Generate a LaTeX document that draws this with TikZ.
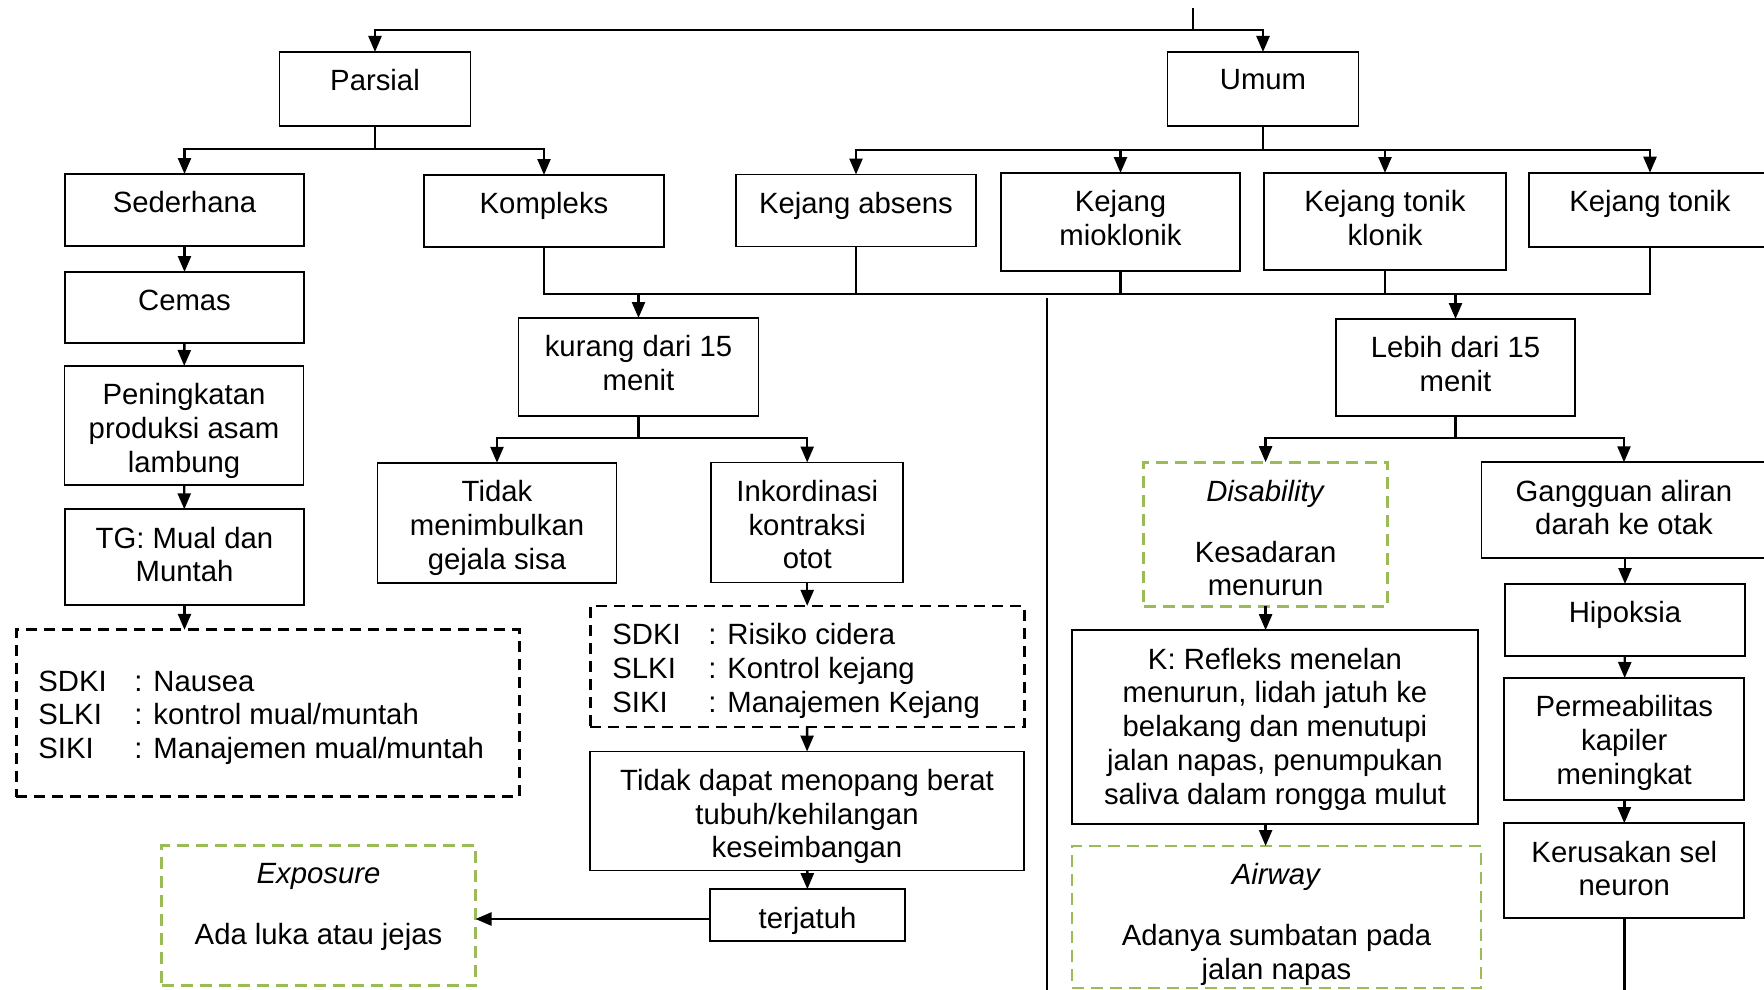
\documentclass[tikz,border=0pt]{standalone}
\usepackage{fontspec}
\setmainfont{Liberation Sans}
\usepackage{tikz}
\usetikzlibrary{arrows.meta}
\definecolor{exgreen}{RGB}{155,187,89}
\def\fsz{\fontsize{29.3}{33.75}\selectfont}

\begin{document}
\begin{tikzpicture}[x=1pt, y=-1pt,
  sz/.style 2 args={minimum width=#1, minimum height=#2},
  box/.style={draw, line width=1.8pt, inner sep=0pt, outer sep=0pt},
  gbox/.style={box, draw=exgreen, line width=2.6pt, dash pattern=on 12pt off 7pt},
  dbox/.style={box, line width=2.8pt, dash pattern=on 11pt off 7pt},
  txt/.style={anchor=north, align=center, inner xsep=0pt, inner ysep=17.5pt, font=\fsz},
  lst/.style={anchor=west, align=left, inner xsep=22pt, inner ysep=0pt, yshift=-4.5pt, font=\fsz},
  line/.style={line width=2.4pt},
  arr/.style={line, -{Triangle[length=16pt, width=13pt]}}
  ]
  \path[use as bounding box, clip] (0,0) rectangle (1764,990);

  % level 1
  \coordinate (top) at (1193,8);
  \node[box, sz={191}{74}, label={[txt]north:Parsial}] (parsial) at (375,89) {};
  \node[box, sz={191}{74}, label={[txt]north:Umum}] (umum) at (1263,89) {};

  % level 2
  \node[box, sz={239}{72}, label={[txt]north:Sederhana}] (sederhana) at (184.5,210) {};
  \node[box, sz={240}{72}, label={[txt]north:Kompleks}] (kompleks) at (544,211) {};
  \node[box, sz={240}{72}, label={[txt]north:Kejang absens}] (absens) at (856,210.5) {};
  \node[box, sz={239}{98}, label={[txt]north:Kejang\\mioklonik}] (mioklonik) at (1120.5,222) {};
  \node[box, sz={242}{97}, label={[txt]north:Kejang tonik\\klonik}] (toniklonik) at (1385,221.5) {};
  \node[box, sz={242}{74}, label={[txt]north:Kejang tonik}] (tonik) at (1650,209.7) {};

  % left column
  \node[box, sz={239}{71}, label={[txt]north:Cemas}] (cemas) at (184.5,307.5) {};
  \node[box, sz={239}{119}, label={[txt]north:Peningkatan\\produksi asam\\lambung}] (naikasam) at (184,425.5) {};
  \node[box, sz={239}{96}, label={[txt]north:TG: Mual dan\\Muntah}] (mual) at (184.5,557.3) {};
  \node[dbox, sz={503}{167}, label={[lst]west:\makebox[96pt][l]{SDKI}: Nausea\\
    \makebox[96pt][l]{SLKI}: kontrol mual/muntah\\
    \makebox[96pt][l]{SIKI}: Manajemen mual/muntah}] (intmual) at (267.7,713.3) {};

  % kurang dari 15 menit
  \node[box, sz={240}{98}, label={[txt]north:kurang dari 15\\menit}] (kurang) at (638.5,367) {};
  \node[box, sz={239}{120}, label={[txt]north:Tidak\\menimbulkan\\gejala sisa}] (nosisa) at (497,522.8) {};
  \node[box, sz={192}{120}, label={[txt]north:Inkordinasi\\kontraksi\\otot}] (inkord) at (807.2,522.5) {};
  \node[dbox, sz={434}{121}, label={[lst]west:\makebox[96pt][l]{SDKI}: Risiko cidera\\
    \makebox[96pt][l]{SLKI}: Kontrol kejang\\
    \makebox[96pt][l]{SIKI}: Manajemen Kejang}] (intkejang) at (807.2,666.4) {};
  \node[box, sz={434}{119}, label={[txt]north:Tidak dapat menopang berat\\tubuh/kehilangan\\keseimbangan}] (menopang) at (807,811) {};
  \node[box, sz={195}{52}, label={[txt]north:terjatuh}] (jatuh) at (807.5,915.2) {};
  \node[gbox, sz={314}{140}, label={[txt]north:\textit{Exposure}\\[27.25pt]Ada luka atau jejas}] (exposure) at (318.5,915.7) {};

  % lebih dari 15 menit
  \node[box, sz={239}{97}, label={[txt]north:Lebih dari 15\\menit}] (lebih) at (1455.5,367.5) {};
  \node[gbox, sz={244}{144}, label={[txt]north:\textit{Disability}\\[27.25pt]Kesadaran\\menurun}] (disability) at (1265.6,534.2) {};
  \node[box, sz={406}{194}, label={[txt]north:K: Refleks menelan\\menurun, lidah jatuh ke\\belakang dan menutupi\\jalan napas, penumpukan\\saliva dalam rongga mulut}] (refleks) at (1275,727.2) {};
  \node[gbox, sz={409}{142}, label={[txt]north:\textit{Airway}\\[27.25pt]Adanya sumbatan pada\\jalan napas}] (airway) at (1276.5,917) {};
  \node[box, sz={285}{96}, label={[txt]north:Gangguan aliran\\darah ke otak}] (aliran) at (1624,510.3) {};
  \node[box, sz={240}{72}, label={[txt]north:Hipoksia}] (hipoksia) at (1625,620) {};
  \node[box, sz={240}{122}, label={[txt]north:Permeabilitas\\kapiler\\meningkat}] (kapiler) at (1624.3,739) {};
  \node[box, sz={240}{95}, label={[txt]north:Kerusakan sel\\neuron}] (neuron) at (1624.3,870.7) {};

  \coordinate (c1) at (0,294);
  \coordinate (d1) at (1047,298);
  \coordinate (d2) at (1047,990);
  \coordinate (j1) at (710,919);

  % connectors
  \draw[line] (top) -- ++(0,22) coordinate (t1);
  \draw[arr] (t1) -| (parsial);
  \draw[arr] (t1) -| (umum);

  \draw[line] (parsial.south) -- ++(0,23) coordinate (p1);
  \draw[arr] (p1) -| (sederhana);
  \draw[arr] (p1) -| (kompleks);

  \draw[line] (umum.south) -- ++(0,24) coordinate (u1);
  \draw[arr] (u1) -| (absens);
  \draw[arr] (u1) -| (mioklonik);
  \draw[arr] (u1) -| (toniklonik);
  \draw[arr] (u1) -| (tonik);

  \draw[line] (kompleks.south) -- (kompleks.south |- c1) -- (tonik.south |- c1) -- (tonik.south);
  \draw[line] (absens.south) -- (absens.south |- c1);
  \draw[line] (mioklonik.south) -- (mioklonik.south |- c1);
  \draw[line] (toniklonik.south) -- (toniklonik.south |- c1);
  \draw[arr] (kurang.north |- c1) -- (kurang.north);
  \draw[arr] (lebih.north |- c1) -- (lebih.north);
  \draw[line] (d1) -- (d2);

  \draw[arr] (sederhana) -- (cemas);
  \draw[arr] (cemas) -- (naikasam);
  \draw[arr] (naikasam) -- (mual);
  \draw[arr] (mual) -- (mual.south |- intmual.north);

  \draw[line] (kurang.south) -- ++(0,22) coordinate (k1);
  \draw[arr] (k1) -| (nosisa);
  \draw[arr] (k1) -| (inkord);
  \draw[arr] (inkord) -- (intkejang);
  \draw[arr] (intkejang) -- (menopang);
  \draw[arr] (menopang) -- (jatuh);
  \draw[arr] (j1) -- (j1 -| exposure.east);

  \draw[line] (lebih.south) -- ++(0,22) coordinate (l1);
  \draw[arr] (l1) -| (disability);
  \draw[arr] (l1) -| (aliran);
  \draw[arr] (disability.south) -- (disability.south |- refleks.north);
  \draw[arr] (refleks.south -| disability) -- (airway.north -| disability);
  \draw[arr] (aliran.south -| hipoksia) -- (hipoksia);
  \draw[arr] (hipoksia) -- (kapiler);
  \draw[arr] (kapiler) -- (neuron);
  \draw[line] (neuron.south) -- (neuron.south |- d2);
\end{tikzpicture}
\end{document}
